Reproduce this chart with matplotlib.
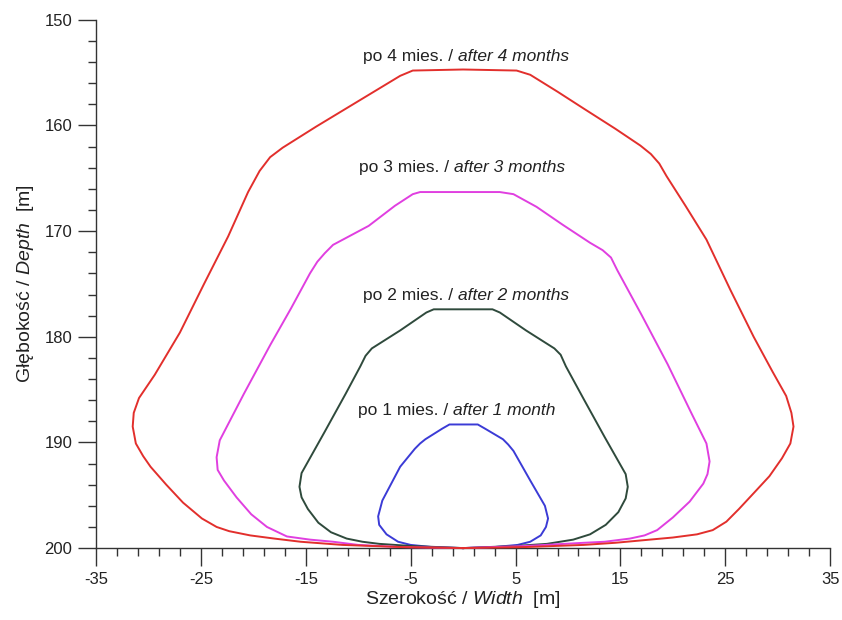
import numpy as np
import matplotlib
matplotlib.use("Agg")
import matplotlib.pyplot as plt
from matplotlib.ticker import FixedLocator
from matplotlib.offsetbox import TextArea, HPacker, AnnotationBbox

plt.rcParams['font.family'] = ['Liberation Sans', 'DejaVu Sans']
plt.rcParams['mathtext.fontset'] = 'custom'
plt.rcParams['mathtext.rm'] = 'Liberation Sans'
plt.rcParams['mathtext.it'] = 'Liberation Sans:italic'
plt.rcParams['axes.unicode_minus'] = False

# contour after 4 months (width, depth)
x4 = [0, -6, -11.5, -15.5, -18, -20.3, -22.3, -23.5, -24.9, -26.7, -28.3, -29.8, -30.5, -31.2,
      -31.5, -31.4, -30.9, -29.4, -27.0, -24.7, -22.4, -20.5, -19.4, -18.4, -17.2, -14, -11,
      -8, -6.0, -4.8, 0, 5.1, 6.4, 9, 11.5, 14.5, 16.9, 17.9, 18.7, 19.4, 21.2, 23.2, 25.5,
      27.7, 29.5, 30.8, 31.3, 31.5, 31.2, 30.4, 29.2, 27.8, 26.3, 25.1, 23.8, 22.3, 20, 17.8,
      14.5, 11.5, 6, 0]
d4 = [200.0, 199.9, 199.7, 199.4, 199.1, 198.8, 198.4, 198.0, 197.2, 195.7, 194.0, 192.3, 191.3,
      190.1, 188.5, 187.2, 185.8, 183.6, 179.6, 175.0, 170.5, 166.3, 164.3, 163.0, 162.1, 160.1,
      158.3, 156.5, 155.3, 154.8, 154.7, 154.8, 155.2, 156.8, 158.4, 160.3, 161.9, 162.7, 163.6,
      164.8, 167.6, 170.8, 175.6, 180.0, 183.3, 185.6, 187.2, 188.5, 190.1, 191.5, 193.2, 194.7,
      196.3, 197.5, 198.3, 198.7, 199.0, 199.2, 199.5, 199.7, 199.9, 200.0]

# contour after 3 months
x3 = [0, -6, -10, -12.4, -14.6, -16.8, -18.7, -20.2, -21.6, -22.8, -23.4, -23.5, -23.2, -20.9,
      -18.4, -16.4, -14.6, -13.9, -13.2, -12.4, -9, -6.5, -4.8, -4.1, 0, 3.5, 4.8, 7, 9.5,
      12.1, 13.3, 14.1, 14.7, 17.0, 19.5, 21.8, 23.2, 23.5, 23.3, 22.9, 21.6, 20.0, 18.5,
      17.3, 15.9, 13.5, 11.5, 6, 0]
d3 = [200.0, 199.9, 199.7, 199.4, 199.2, 198.9, 198.0, 196.8, 195.2, 193.6, 192.6, 191.4, 189.8,
      185.4, 180.8, 177.3, 174.0, 172.9, 172.1, 171.3, 169.5, 167.6, 166.5, 166.3, 166.3, 166.3,
      166.5, 167.7, 169.4, 171.1, 171.8, 172.5, 173.7, 177.9, 182.6, 187.3, 190.1, 191.8, 193.0,
      193.9, 195.6, 197.1, 198.3, 198.8, 199.1, 199.4, 199.5, 199.8, 200.0]

# contour after 2 months
x2 = [0, -5, -8, -9.6, -11.1, -12.6, -13.8, -14.8, -15.4, -15.6, -15.4, -13.2, -11.2, -9.8,
      -9.3, -8.7, -6, -3.5, -2.8, 0, 2.8, 3.5, 6, 8.7, 9.3, 9.8, 11.5, 13.5, 15.5, 15.7, 15.5,
      14.8, 13.6, 12.1, 10.5, 8, 5, 0]
d2 = [200.0, 199.8, 199.6, 199.4, 199.1, 198.5, 197.6, 196.3, 195.2, 194.2, 192.9, 189.0, 185.4,
      182.8, 181.8, 181.1, 179.4, 177.7, 177.4, 177.4, 177.4, 177.7, 179.4, 181.1, 181.7, 182.8,
      185.9, 189.5, 193.0, 194.2, 195.3, 196.6, 197.8, 198.7, 199.2, 199.6, 199.8, 200.0]

# contour after 1 month
x1 = [0, -3, -5.0, -6.2, -7.3, -8.0, -8.1, -7.7, -6.0, -4.6, -4.1, -3.6, -2.0, -1.3, 0, 1.4,
      2.1, 3.8, 4.3, 4.8, 6.4, 7.8, 8.1, 7.9, 7.4, 6.4, 5.2, 3, 0]
d1 = [200.0, 199.9, 199.7, 199.4, 198.7, 197.8, 197.0, 195.5, 192.3, 190.6, 190.1, 189.7, 188.7,
      188.3, 188.3, 188.3, 188.7, 189.7, 190.2, 190.8, 193.6, 196.0, 197.2, 198.0, 198.8, 199.4,
      199.7, 199.9, 200.0]

colors = ['#3b3bd6', '#2f4a3c', '#e03fe0', '#e22f2c']
label_pos = [187.0, 176.1, 164.0, 153.5]
label_x = [-0.6, 0.3, -0.1, 0.3]
labels_pl = ["po 1 mies. / ", "po 2 mies. / ", "po 3 mies. / ", "po 4 mies. / "]
labels_en = ["after 1 month", "after 2 months", "after 3 months", "after 4 months"]

fig = plt.figure(figsize=(8.42, 6.2), dpi=100)
ax = fig.add_axes([0.114, 0.116, 0.872, 0.852])

for xs, ds, c in zip([x1, x2, x3, x4], [d1, d2, d3, d4], colors):
    ax.plot(xs, ds, color=c, lw=1.4, clip_on=False, zorder=3)

for xl, yl, tp, te in zip(label_x, label_pos, labels_pl, labels_en):
    t1 = TextArea(tp, textprops=dict(fontsize=12.5, color='#222222'))
    t2 = TextArea(te, textprops=dict(fontsize=12.5, color='#222222', style='italic'))
    box = HPacker(children=[t1, t2], align='baseline', pad=0, sep=0)
    ab = AnnotationBbox(box, (xl, yl), xycoords='data', frameon=False,
                        box_alignment=(0.5, 0.5), pad=0)
    ax.add_artist(ab)

ax.set_xlim(-35, 35)
ax.set_ylim(200, 150)
ax.xaxis.set_major_locator(FixedLocator(np.arange(-35, 36, 10)))
ax.xaxis.set_minor_locator(FixedLocator(np.arange(-35, 36, 2)))
ax.yaxis.set_major_locator(FixedLocator(np.arange(150, 201, 10)))
ax.yaxis.set_minor_locator(FixedLocator(np.arange(150, 201, 2)))
ax.tick_params(which='major', direction='out', length=13, width=1, labelsize=12,
               color='#333333', labelcolor='#222222', pad=4)
ax.tick_params(which='minor', direction='out', length=6, width=1, color='#333333')

for s in ['top', 'right']:
    ax.spines[s].set_visible(False)
for s in ['left', 'bottom']:
    ax.spines[s].set_color('#333333')
    ax.spines[s].set_linewidth(1)

ax.set_xlabel(r"Szerokość / $\it{Width}$  [m]", fontsize=14, color='#222222', labelpad=2)
ax.set_ylabel(r"Głębokość / $\it{Depth}$  [m]", fontsize=14, color='#222222', labelpad=6)

fig.savefig("out.png", dpi=100)
